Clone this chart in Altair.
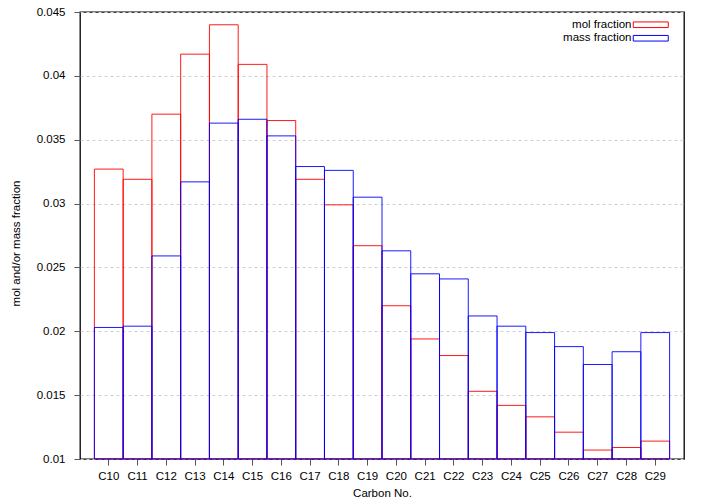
import altair as alt
import pandas as pd

categories = ["C10", "C11", "C12", "C13", "C14", "C15", "C16", "C17", "C18", "C19",
              "C20", "C21", "C22", "C23", "C24", "C25", "C26", "C27", "C28", "C29"]
mol_fraction = [0.0327, 0.0319, 0.0370, 0.0417, 0.0440, 0.0409, 0.0365, 0.0319, 0.0299, 0.0267,
                0.0220, 0.0194, 0.0181, 0.0153, 0.0142, 0.0133, 0.0121, 0.0107, 0.0109, 0.0114]
mass_fraction = [0.0203, 0.0204, 0.0259, 0.0317, 0.0363, 0.0366, 0.0353, 0.0329, 0.0326, 0.0305,
                 0.0263, 0.0245, 0.0241, 0.0212, 0.0204, 0.0199, 0.0188, 0.0174, 0.0184, 0.0199]
series_names = ["mol fraction", "mass fraction"]
series_colors = ["#ff0000", "#0000ff"]
y_ticks = [0.01, 0.015, 0.02, 0.025, 0.03, 0.035, 0.04, 0.045]

rows = []
for name, vals in zip(series_names, [mol_fraction, mass_fraction]):
    for c, v in zip(categories, vals):
        rows.append({"cat": c, "series": name, "value": v})
df = pd.DataFrame(rows)

FONT = "Liberation Sans"

chart = alt.Chart(df).mark_bar(fill="transparent", strokeWidth=1, strokeOpacity=0.9).encode(
    x=alt.X("cat:N", sort=categories,
            scale=alt.Scale(paddingInner=0, paddingOuter=0.5),
            axis=alt.Axis(title="Carbon No.", labelAngle=0, tickSize=6, labelPadding=5,
                          tickColor="#555", domain=False, grid=False, titlePadding=6)),
    y=alt.Y("value:Q", stack=None,
            scale=alt.Scale(domain=[0.01, 0.045], nice=False, zero=False),
            axis=alt.Axis(title="mol and/or mass fraction", values=y_ticks, format="~g",
                          tickSize=6, labelPadding=9, tickColor="#555", domain=False,
                          grid=True, gridDash=[3, 3], gridColor="#d0d0d0",
                          titleX=-64, titleY=231, titleBaseline="middle")),
    y2=alt.datum(0.01),
    stroke=alt.Stroke("series:N",
                      scale=alt.Scale(domain=series_names, range=series_colors),
                      legend=alt.Legend(title=None, orient="none", legendX=565, legendY=7,
                                        symbolType="M-3.5,-0.56H3.5V0.56H-3.5Z", symbolSize=100,
                                        symbolStrokeWidth=1, symbolFillColor="transparent",
                                        labelAlign="right", labelOffset={"expr": "-25"},
                                        labelFontSize=11.5, rowPadding=0.5, padding=0)),
).properties(
    width=604, height=447,
    autosize=alt.AutoSizeParams(type="none"),
    padding={"left": 72, "top": 4, "right": 13, "bottom": 41},
).configure_view(
    stroke="#000", strokeWidth=1.3
).configure_axis(
    labelFont=FONT, titleFont=FONT, labelFontSize=11.5, titleFontSize=11.5,
    titleFontWeight="normal", labelColor="#000", titleColor="#000"
).configure_legend(
    labelFont=FONT, labelColor="#000"
)

chart.save("out.html", embed_options={"renderer": "svg", "actions": False})
